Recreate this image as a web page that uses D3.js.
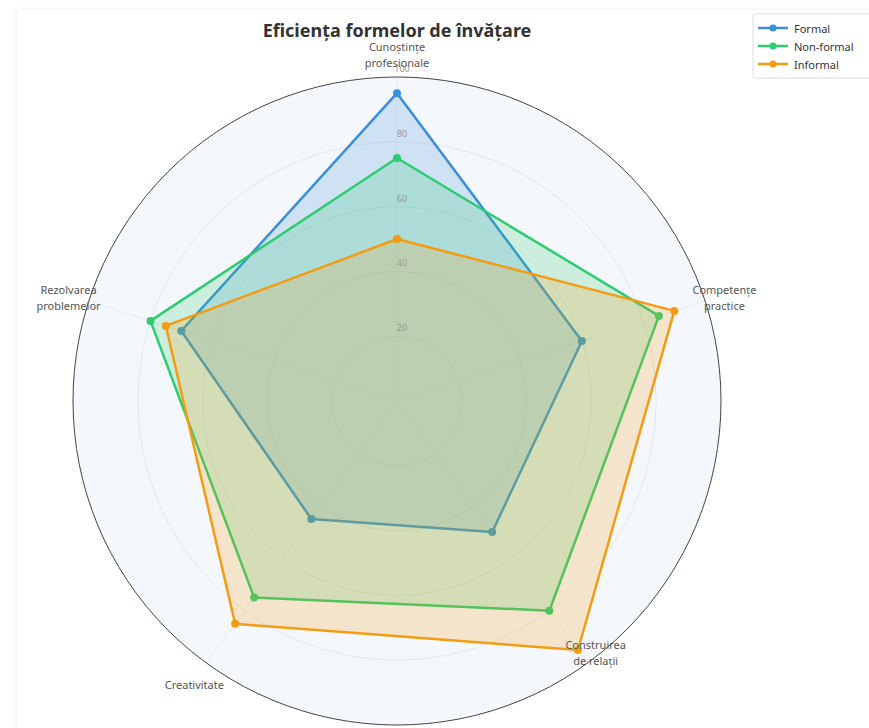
<!DOCTYPE html>
<html>
<head>
<meta charset="utf-8">
<script src="https://cdn.jsdelivr.net/npm/d3@7"></script>
<style>
  body { margin: 0; background: #fff; overflow: hidden; font-family: "Noto Sans", sans-serif; }
  .card { position: absolute; left: 17px; top: 10px; width: 900px; height: 740px;
          box-shadow: -1px 0 4px rgba(0,0,0,0.08); background: #fff; }
  svg { position: absolute; left: 0; top: 0; }
</style>
</head>
<body>
<div class="card"></div>
<div id="chart"></div>
<script>
// axes of the radar (clockwise from top)
const categories = ["Cunoștințe\nprofesionale", "Competențe\npractice", "Construirea\nde relații", "Creativitate", "Rezolvarea\nproblemelor"];
const seriesNames = ["Formal", "Non-formal", "Informal"];
const formalValues = [95, 60, 50, 45, 70];
const nonFormalValues = [75, 85, 80, 75, 80];
const informalValues = [50, 90, 95, 85, 75];
const tickValues = [20, 40, 60, 80, 100];

const colors = ["#3a8fd8", "#2ecc71", "#f39c12"];
const allSeries = [formalValues, nonFormalValues, informalValues];

const width = 900, height = 728;
const cx = 397, cy = 401, R = 324;

const svg = d3.select("#chart").append("svg")
    .attr("width", width)
    .attr("height", height);

const r = d3.scaleLinear().domain([0, 100]).range([0, R]);
const angle = d3.scalePoint().domain(d3.range(categories.length))
    .range([0, 2 * Math.PI * (categories.length - 1) / categories.length]);

const g = svg.append("g").attr("transform", `translate(${cx},${cy})`);

// background disc
g.append("circle").attr("r", R).attr("fill", "#f4f7fb");

// grid circles
g.selectAll(".grid").data(tickValues.slice(0, -1)).enter()
  .append("circle")
    .attr("r", d => r(d))
    .attr("fill", "none")
    .attr("stroke", "#e6e8eb")
    .attr("stroke-width", 1);

// spokes
g.selectAll(".spoke").data(categories).enter()
  .append("line")
    .attr("x1", 0).attr("y1", 0)
    .attr("x2", (d, i) => r(100) * Math.sin(angle(i)))
    .attr("y2", (d, i) => -r(100) * Math.cos(angle(i)))
    .attr("stroke", "#eaecef")
    .attr("stroke-width", 1);

// outer circle
g.append("circle").attr("r", R).attr("fill", "none")
    .attr("stroke", "#444").attr("stroke-width", 1);

// series
const radarLine = d3.lineRadial()
    .angle((d, i) => angle(i))
    .radius(d => r(d))
    .curve(d3.curveLinearClosed);

allSeries.forEach((vals, s) => {
  g.append("path")
    .attr("d", radarLine(vals))
    .attr("fill", colors[s])
    .attr("fill-opacity", 0.2)
    .attr("stroke", colors[s])
    .attr("stroke-width", 2.5)
    .attr("stroke-linejoin", "round");
  g.selectAll(".pt" + s).data(vals).enter()
    .append("circle")
      .attr("cx", (d, i) => r(d) * Math.sin(angle(i)))
      .attr("cy", (d, i) => -r(d) * Math.cos(angle(i)))
      .attr("r", 4)
      .attr("fill", colors[s]);
});

// radial tick labels
g.selectAll(".tick").data(tickValues).enter()
  .append("text")
    .attr("x", 5)
    .attr("y", d => -r(d) - 5)
    .attr("text-anchor", "middle")
    .attr("font-size", 9)
    .attr("fill", "#999")
    .text(d => d);

// axis labels
const labelNudge = [0, 0, -22, 10, 0];
categories.forEach((c, i) => {
  const lines = c.split("\n");
  const a = angle(i);
  const lr = R + 14;
  const x = lr * Math.sin(a);
  let y = -lr * Math.cos(a) + labelNudge[i];
  const lh = 16;
  let y0;
  if (i === 0) y0 = y - (lines.length - 1) * lh - 1;
  else y0 = y - (lines.length - 1) * lh / 2;
  const t = g.append("text")
    .attr("text-anchor", "middle")
    .attr("dominant-baseline", "central")
    .attr("font-size", 11)
    .attr("fill", "#555");
  lines.forEach((l, k) => {
    t.append("tspan").attr("x", x + (i === 1 ? 6 : i === 4 ? -7 : i === 3 ? -4 : 0)).attr("y", y0 + k * lh).text(l);
  });
});

// title
svg.append("text")
    .attr("x", cx)
    .attr("y", 37)
    .attr("text-anchor", "middle")
    .attr("font-size", 18)
    .attr("font-weight", "bold")
    .attr("fill", "#333")
    .text("Eficiența formelor de învățare");

// legend
const legend = svg.append("g").attr("transform", "translate(753,14)");
legend.append("rect")
    .attr("width", 140).attr("height", 64).attr("rx", 3)
    .attr("fill", "#fff").attr("stroke", "#ddd");
seriesNames.forEach((n, s) => {
  const yy = 14 + s * 18;
  legend.append("line").attr("x1", 5).attr("x2", 35).attr("y1", yy).attr("y2", yy)
    .attr("stroke", colors[s]).attr("stroke-width", 2.5);
  legend.append("circle").attr("cx", 20).attr("cy", yy).attr("r", 3.5).attr("fill", colors[s]);
  legend.append("text").attr("x", 41).attr("y", yy).attr("dominant-baseline", "central")
    .attr("font-size", 11).attr("fill", "#333").text(n);
});
</script>
</body>
</html>
